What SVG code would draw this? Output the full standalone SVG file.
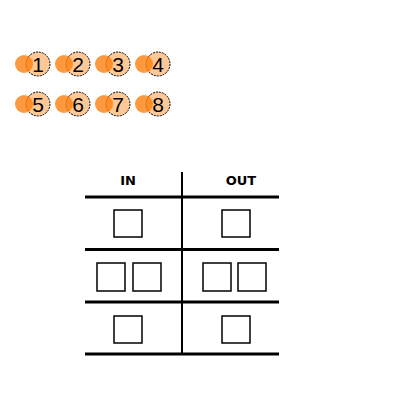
<svg xmlns="http://www.w3.org/2000/svg" width="400" height="400" viewBox="0 0 400 400">
<style>
.lt{fill:#fdc896;stroke:#000;stroke-width:1;stroke-dasharray:2,1}
.or{fill:#ff7f0e;fill-opacity:0.8}
.num{font-family:"Liberation Sans",Arial,sans-serif;font-size:21px;fill:#000;text-anchor:middle}
.hd{font-family:"DejaVu Sans",Verdana,sans-serif;font-size:13px;font-weight:bold;fill:#000;text-anchor:middle}
.hl{stroke:#000;stroke-width:3}
.sq{fill:#fff;stroke:#000;stroke-width:1.5}
</style>
<rect width="400" height="400" fill="#fff"/>
<g id="badges">
<g id="b1"><circle class="lt" cx="38" cy="64" r="12"/><circle class="or" cx="24" cy="64" r="9"/><text class="num" x="38" y="71.5">1</text></g>
<g id="b2"><circle class="lt" cx="78" cy="64" r="12"/><circle class="or" cx="64" cy="64" r="9"/><text class="num" x="78" y="71.5">2</text></g>
<g id="b3"><circle class="lt" cx="118" cy="64" r="12"/><circle class="or" cx="104" cy="64" r="9"/><text class="num" x="118" y="71.5">3</text></g>
<g id="b4"><circle class="lt" cx="158" cy="64" r="12"/><circle class="or" cx="144" cy="64" r="9"/><text class="num" x="158" y="71.5">4</text></g>
<g id="b5"><circle class="lt" cx="38" cy="104" r="12"/><circle class="or" cx="24" cy="104" r="9"/><text class="num" x="38" y="111.5">5</text></g>
<g id="b6"><circle class="lt" cx="78" cy="104" r="12"/><circle class="or" cx="64" cy="104" r="9"/><text class="num" x="78" y="111.5">6</text></g>
<g id="b7"><circle class="lt" cx="118" cy="104" r="12"/><circle class="or" cx="104" cy="104" r="9"/><text class="num" x="118" y="111.5">7</text></g>
<g id="b8"><circle class="lt" cx="158" cy="104" r="12"/><circle class="or" cx="144" cy="104" r="9"/><text class="num" x="158" y="111.5">8</text></g>
</g>
<g id="table">
<text class="hd" x="128" y="185">IN</text>
<text class="hd" x="241" y="185">OUT</text>
<line x1="182" y1="172" x2="182" y2="355" stroke="#000" stroke-width="2"/>
<line class="hl" x1="85" y1="197" x2="279" y2="197"/>
<line class="hl" x1="85" y1="249.5" x2="279" y2="249.5"/>
<line class="hl" x1="85" y1="302" x2="279" y2="302"/>
<line class="hl" x1="85" y1="354" x2="279" y2="354" stroke="#222"/>
<rect class="sq" x="114" y="210" width="28" height="27"/>
<rect class="sq" x="222" y="210" width="28" height="27"/>
<rect class="sq" x="97" y="263" width="28" height="28"/>
<rect class="sq" x="133" y="263" width="28" height="28"/>
<rect class="sq" x="203" y="263" width="28" height="28"/>
<rect class="sq" x="238" y="263" width="28" height="28"/>
<rect class="sq" x="114" y="316" width="28" height="27"/>
<rect class="sq" x="222" y="316" width="28" height="27"/>
</g>
</svg>
